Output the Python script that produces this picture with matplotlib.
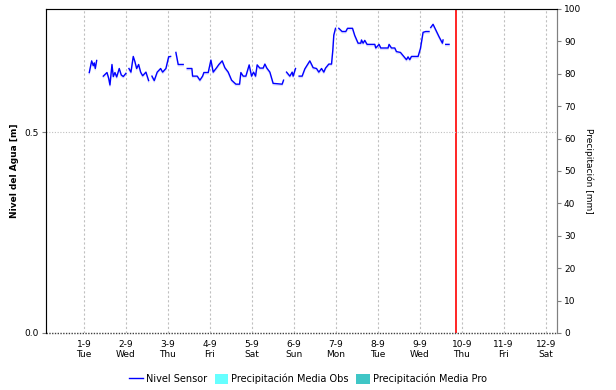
import numpy as np
import matplotlib
matplotlib.use('Agg')
import matplotlib.pyplot as plt
import matplotlib.patheffects as pe
from matplotlib.lines import Line2D
from matplotlib.patches import Patch

# dias desde el 1-9 (NaN = hueco en la serie)
nivel_dias = [
    0.126, 0.183, 0.221, 0.245, 0.269, 0.302, np.nan,
    0.460, 0.548, 0.588, 0.619, 0.667, 0.698, 0.738, 0.779, 0.840, 0.888, 0.936, 1.000, np.nan,
    1.071, 1.119, 1.174, 1.214, 1.255, 1.302, 1.350, 1.398, 1.476, 1.540, np.nan,
    1.619, 1.674, 1.745, 1.826, 1.874, 1.952, 2.017, 2.064, np.nan,
    2.190, 2.245, 2.364, np.nan,
    2.460, 2.571, 2.588, 2.698, 2.762, 2.826, 2.857, 2.960, 3.024, 3.079, 3.160, 3.214,
    3.293, 3.357, 3.436, 3.517, 3.619, 3.707, 3.738, 3.793, 3.857, 3.936, 3.993, 4.040,
    4.088, 4.126, 4.190, 4.269, 4.310, 4.357, 4.429, 4.507, 4.721, 4.755, np.nan,
    4.826, 4.905, 4.960, 4.983, 5.040, np.nan,
    5.126, 5.198, 5.262, 5.381, 5.460, 5.540, 5.595, 5.660, 5.714, 5.755, 5.833, 5.898,
    5.929, 5.952, 5.993, np.nan,
    6.071, 6.150, 6.238, 6.279, 6.398, 6.452, 6.531, 6.595, 6.612, 6.650, 6.690, 6.745,
    6.929, 6.952, 7.031, 7.071, 7.245, 7.269, 7.326, 7.405, 7.445, 7.540, 7.619, 7.683,
    7.721, 7.762, 7.802, 7.960, 8.017, 8.079, 8.143, 8.221, np.nan,
    8.262, 8.317, 8.381, 8.460, 8.540, 8.555, np.nan,
    8.619, 8.698,
]
nivel_m = [
    0.648, 0.677, 0.665, 0.672, 0.658, 0.678, np.nan,
    0.639, 0.648, 0.634, 0.617, 0.668, 0.638, 0.648, 0.637, 0.658, 0.642, 0.638, 0.646, np.nan,
    0.658, 0.649, 0.688, 0.675, 0.658, 0.668, 0.649, 0.640, 0.649, 0.628, np.nan,
    0.639, 0.628, 0.649, 0.658, 0.649, 0.658, 0.687, 0.688, np.nan,
    0.698, 0.668, 0.668, np.nan,
    0.658, 0.658, 0.639, 0.639, 0.629, 0.639, 0.648, 0.648, 0.679, 0.649, 0.660, 0.668,
    0.677, 0.660, 0.649, 0.629, 0.619, 0.619, 0.648, 0.639, 0.639, 0.667, 0.639, 0.649,
    0.639, 0.667, 0.659, 0.659, 0.669, 0.659, 0.649, 0.621, 0.619, 0.629, np.nan,
    0.649, 0.639, 0.649, 0.639, 0.658, np.nan,
    0.639, 0.639, 0.657, 0.677, 0.660, 0.658, 0.649, 0.658, 0.649, 0.659, 0.669, 0.669,
    0.704, 0.741, 0.758, np.nan,
    0.758, 0.750, 0.750, 0.758, 0.758, 0.740, 0.721, 0.721, 0.729, 0.721, 0.728, 0.718,
    0.718, 0.709, 0.718, 0.709, 0.709, 0.718, 0.709, 0.709, 0.700, 0.698, 0.688, 0.680,
    0.687, 0.680, 0.688, 0.688, 0.708, 0.748, 0.750, 0.750, np.nan,
    0.760, 0.768, 0.754, 0.737, 0.721, 0.729, np.nan,
    0.718, 0.718,
]

tick_dias = [0, 1, 2, 3, 4, 5, 6, 7, 8, 9, 10, 11]
tick_labels = ['1-9\nTue', '2-9\nWed', '3-9\nThu', '4-9\nFri', '5-9\nSat', '6-9\nSun',
               '7-9\nMon', '8-9\nTue', '9-9\nWed', '10-9\nThu', '11-9\nFri', '12-9\nSat']
ahora = 8.874
precip_ticks = [0, 10, 20, 30, 40, 50, 60, 70, 80, 90, 100]

plt.rcParams['font.family'] = ['DejaVu Sans']
plt.rcParams['font.size'] = 6.5

fig = plt.figure(figsize=(6.16, 3.9), dpi=100)
ax = fig.add_axes([46 / 616, 57 / 390, 511 / 616, 324 / 390])

ax.plot(nivel_dias, nivel_m, color='#0000ff', lw=1.0,
        path_effects=[pe.SimpleLineShadow(offset=(0, -1.0), shadow_color='#a0a0ff', alpha=0.35),
                      pe.Normal()])
ax.axvline(ahora, color='#ff0000', lw=1.2)

ax.set_xlim(-0.905, 11.27)
ax.set_ylim(0, 0.806)
ax.set_xticks(tick_dias)
ax.set_xticklabels(tick_labels)
ax.set_yticks([0.0, 0.5])
ax.set_yticklabels(['0.0', '0.5'])
ax.grid(axis='x', color='#c0c0c0', ls=(0, (2, 2)), lw=0.8)
ax.axhline(0.5, color='#c0c0c0', ls=(0, (1, 1.5)), lw=0.8)
ax.axhline(0.0, color='#404040', ls=(0, (1, 1)), lw=1.0, clip_on=False)
ax.set_ylabel('Nivel del Agua [m]', fontweight='bold', labelpad=4)

for side in ['left', 'right', 'top']:
    ax.spines[side].set_color('#808080')
ax.spines['bottom'].set_visible(False)
ax.tick_params(axis='x', length=0, pad=5)
ax.tick_params(axis='y', length=3, color='#808080', pad=2)

ax2 = ax.twinx()
ax2.set_ylim(0, 100)
ax2.set_yticks(precip_ticks)
ax2.set_ylabel('Precipitación [mm]', rotation=270, labelpad=9)
ax2.spines['right'].set_color('#808080')
ax2.spines['bottom'].set_visible(False)
ax2.tick_params(axis='y', length=3, color='#808080', pad=2)

handles = [Line2D([], [], color='#0000ff', lw=1.0),
           Patch(facecolor='#66ffff', edgecolor='none'),
           Patch(facecolor='#3fc6c6', edgecolor='none')]
fig.legend(handles, ['Nivel Sensor', 'Precipitación Media Obs', 'Precipitación Media Pro'],
           loc='center', bbox_to_anchor=(0.5, 11 / 390), ncol=3, frameon=False,
           handlelength=1.4, handleheight=1.1, handletextpad=0.3, columnspacing=0.8,
           fontsize=7)

fig.savefig('out.png', dpi=100)
